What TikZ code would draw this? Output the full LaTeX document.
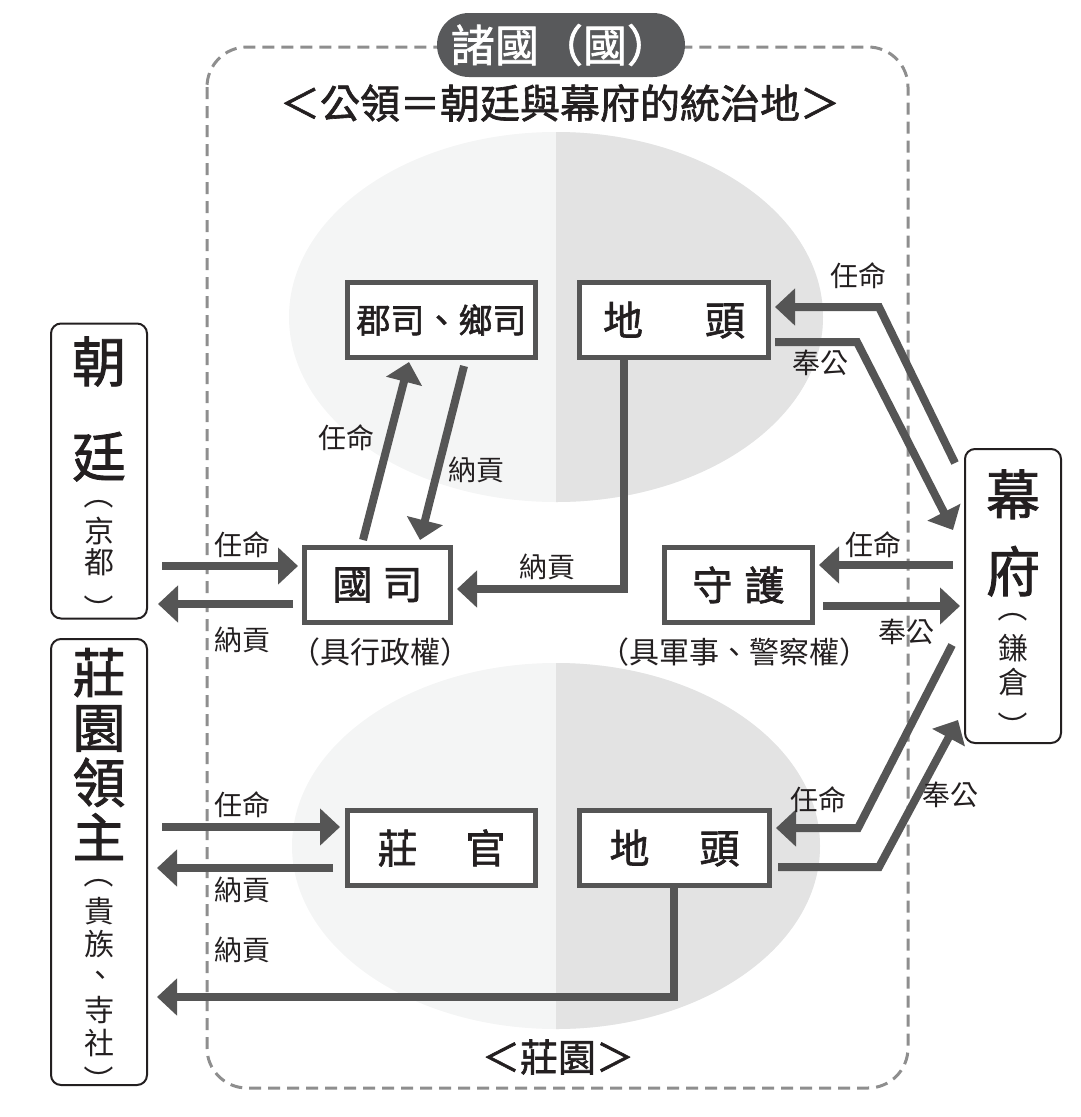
\documentclass[tikz,border=0pt]{standalone}
\usepackage{fontspec}
\usetikzlibrary{arrows.meta}
\newfontfamily\cjk{Noto Sans CJK TC}
\newfontfamily\cjkm[FakeBold=1.6]{Noto Sans CJK TC}
\definecolor{arrowc}{HTML}{555555}
\definecolor{boxc}{HTML}{555555}
\definecolor{pillc}{HTML}{58595B}
\definecolor{lightc}{HTML}{F4F5F5}
\definecolor{darkc}{HTML}{E3E3E3}
\definecolor{txt}{HTML}{231F20}
\definecolor{dashc}{HTML}{8E8E8E}
\tikzset{
  office/.style={draw=boxc, line width=5pt, fill=white, inner sep=0pt, text=txt,
    minimum height=75pt, font=\cjkm\fontsize{40}{42}\selectfont},
  sidebox/.style={draw=txt, line width=2pt, rounded corners=10pt, inner sep=0pt, minimum width=96pt},
  vtext/.style={align=center, inner sep=0pt, text=txt},
  vparen/.style={inner sep=0pt, text=txt, rotate=-90, font=\cjk\fontsize{30}{30}\selectfont},
  flow/.style={draw=arrowc, line width=8pt, line join=miter, -{Triangle[width=36pt,length=20pt]}},
  lbl/.style={font=\cjk\fontsize{28}{30}\selectfont, text=txt, inner sep=0pt},
  note/.style={font=\cjk\fontsize{30}{32}\selectfont, text=txt, inner sep=0pt},
}
\begin{document}
\begin{tikzpicture}[x=1pt,y=-1pt]
\useasboundingbox (0,0) rectangle (1080,1117);
% territories
\begin{scope}
\fill[lightc] (556,317) ellipse [x radius=267, y radius=185];
\clip (556,0) rectangle (1080,1117);
\fill[darkc] (556,317) ellipse [x radius=267, y radius=185];
\end{scope}
\begin{scope}
\fill[lightc] (556,846) ellipse [x radius=264, y radius=183];
\clip (556,0) rectangle (1080,1117);
\fill[darkc] (556,846) ellipse [x radius=264, y radius=183];
\end{scope}
% province frame
\draw[dashc, line width=3pt, dash pattern=on 12pt off 7pt, rounded corners=40pt] (207,47) rectangle (908,1088);
\node[fill=pillc, rounded corners=32pt, minimum width=248pt, minimum height=64pt, inner sep=0pt,
  text=white, font=\cjkm\fontsize{44}{46}\selectfont] (title) at (561,45) {諸國（國）};
\node[font=\cjkm\fontsize{40}{42}\selectfont, text=txt, inner sep=0pt] (sub) at (560,103) {＜公領＝朝廷與幕府的統治地＞};
\node[font=\cjkm\fontsize{38}{40}\selectfont, text=txt, inner sep=0pt] (shoen) at (558,1057) {＜莊園＞};
% side boxes
\node[sidebox, minimum height=295pt] (chotei) at (99,471) {};
\node[sidebox, minimum height=446pt] (ryoshu) at (99,862) {};
\node[sidebox, minimum height=294pt] (bakufu) at (1013,596) {};
% 朝廷（京都）
\node[vtext, font=\cjkm\fontsize{54}{95}\selectfont] (choteiA) at (99,409) {朝\\廷};
\node[vparen] (choteiP) at (99,494) {（};
\node[vtext, font=\cjk\fontsize{30}{31}\selectfont] (choteiB) at (99,546) {京\\都};
\node[vparen] (choteiQ) at (99,609) {）};
% 莊園領主（貴族、寺社）
\node[vtext, font=\cjkm\fontsize{53}{55}\selectfont] (ryoshuA) at (99,754) {莊\\園\\領\\主};
\node[vparen] (ryoshuP) at (99,873) {（};
\node[vtext, font=\cjk\fontsize{30}{33}\selectfont] (ryoshuB) at (99,977) {貴\\族\\\raisebox{2pt}{\hspace*{2pt}、}\\寺\\社};
\node[vparen] (ryoshuQ) at (99,1080) {）};
% 幕府（鎌倉）
\node[vtext, font=\cjkm\fontsize{54}{77}\selectfont] (bakufuA) at (1013,533) {幕\\府};
\node[vparen] (bakufuP) at (1013,607) {（};
\node[vtext, font=\cjk\fontsize{30}{34}\selectfont] (bakufuB) at (1013,665) {鎌\\倉};
\node[vparen] (bakufuQ) at (1013,726) {）};
% offices
\node[office, minimum width=188pt, font=\cjkm\fontsize{34}{36}\selectfont] (gunji) at (441.5,320) {郡司、鄉司};
\node[office, minimum width=189pt] (jitoU) at (674,320) {地\hspace{62pt}頭};
\node[office, minimum width=146pt] (kokushi) at (377.5,585) {國\hspace{10pt}司};
\node[office, minimum width=148pt] (shugo) at (738.5,585) {守\hspace{12pt}護};
\node[office, minimum width=188pt] (shokan) at (441.5,848) {莊\hspace{48pt}官};
\node[office, minimum width=190pt] (jitoL) at (674.5,848) {地\hspace{50pt}頭};
\node[note] (kokushiN) at (380,652) {（具行政權）};
\node[note] (shugoN) at (734,652) {（具軍事、警察權）};
% flows
\draw[flow] ([shift={(14,95)}]chotei.east) -- ([shift={(-4,-19)}]kokushi.west);
\draw[flow] ([shift={(-9,19)}]kokushi.west) -- ([shift={(10,133)}]chotei.east);
\draw[flow] ([shift={(-14.5,-5)}]kokushi.north) -- ([shift={(-32.5,2)}]gunji.south);
\draw[flow] ([shift={(22.5,6)}]gunji.south) -- ([shift={(42.5,-5)}]kokushi.north);
\draw[flow] ([xshift=-50pt]jitoU.south) |- ([shift={(4,4)}]kokushi.east);
\draw[flow] ([shift={(-9,-133)}]bakufu.west) -- ([shift={(108,-13)}]jitoU.east) -- ([shift={(4,-13)}]jitoU.east);
\draw[flow] ([shift={(4,22)}]jitoU.east) -- ([shift={(86,22)}]jitoU.east) -- ([shift={(-11,-66)}]bakufu.west);
\draw[flow] ([shift={(-11,-31)}]bakufu.west) -- ([shift={(4,-20)}]shugo.east);
\draw[flow] ([shift={(8,21)}]shugo.east) -- ([shift={(-4,10)}]bakufu.west);
\draw[flow] ([shift={(-12,49)}]bakufu.west) -- ([shift={(86,-20)}]jitoL.east) -- ([shift={(4,-20)}]jitoL.east);
\draw[flow] ([shift={(6,19)}]jitoL.east) -- ([shift={(107,19)}]jitoL.east) -- ([shift={(-6,124)}]bakufu.west);
\draw[flow] ([shift={(14,-35)}]ryoshu.east) -- ([shift={(-5,-21)}]shokan.west);
\draw[flow] ([shift={(-12,20)}]shokan.west) -- ([shift={(9,6)}]ryoshu.east);
\draw[flow] ([xshift=-0.5pt]jitoL.south) |- ([shift={(9,135)}]ryoshu.east);
% labels
\node[lbl] (l1) at (242,545) {任命};
\node[lbl] (l2) at (242,640) {納貢};
\node[lbl] (l3) at (346,438) {任命};
\node[lbl] (l4) at (476,470) {納貢};
\node[lbl] (l5) at (547,567) {納貢};
\node[lbl] (l6) at (858,276) {任命};
\node[lbl] (l7) at (820,363) {奉公};
\node[lbl] (l8) at (873,545) {任命};
\node[lbl] (l9) at (906,632) {奉公};
\node[lbl] (l10) at (818,800) {任命};
\node[lbl] (l11) at (950,795) {奉公};
\node[lbl] (l12) at (242,805) {任命};
\node[lbl] (l13) at (242,890) {納貢};
\node[lbl] (l14) at (242,950) {納貢};
\end{tikzpicture}
\end{document}
